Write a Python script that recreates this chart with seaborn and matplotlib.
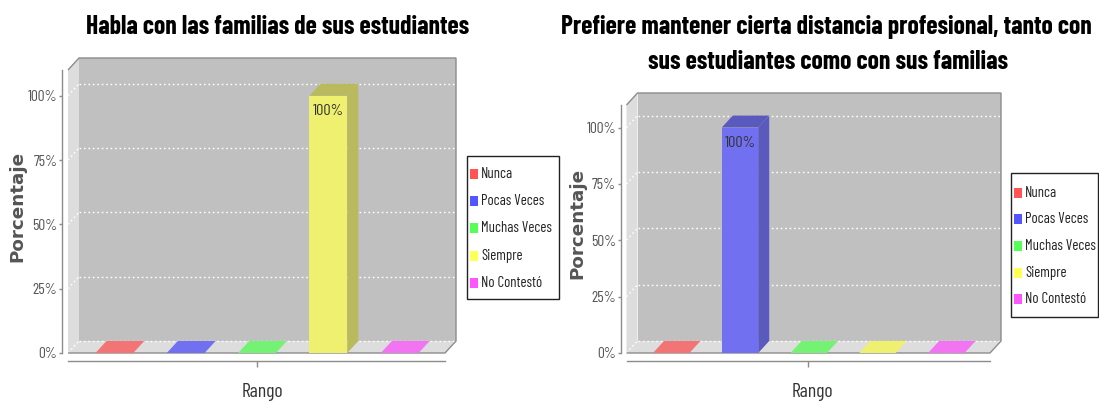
import os
import matplotlib
matplotlib.use("Agg")
import matplotlib.pyplot as plt
from matplotlib import font_manager as fm
from matplotlib.patches import Polygon, Rectangle
import seaborn as sns
import pandas as pd

# ---- data -------------------------------------------------------------
categories = ["Nunca", "Pocas Veces", "Muchas Veces", "Siempre", "No Contestó"]
habla_pct = [0, 0, 0, 100, 0]
distancia_pct = [0, 100, 0, 0, 0]
y_ticks = [0, 25, 50, 75, 100]
y_tick_labels = ["0%", "25%", "50%", "75%", "100%"]
titles = [
    ["Habla con las familias de sus estudiantes"],
    ["Prefiere mantener cierta distancia profesional, tanto con",
     "sus estudiantes como con sus familias"],
]
x_label = "Rango"
y_label = "Porcentaje"

# ---- style ------------------------------------------------------------
series_colors = ["#FF5555", "#5555FF", "#55FF55", "#FFFF55", "#FF55FF"]
face_colors = ["#F27474", "#7070F0", "#74F274", "#F0F070", "#F274F2"]
shade_colors = ["#B85A5A", "#5A5ABE", "#5AB85A", "#B9B95E", "#B85AB8"]
BACK_WALL = "#C0C0C0"
SIDE_WALL = "#DDDDDD"
EDGE = "#8C8C8C"
DX, DY = 11, 12  # depth of the 3D effect, in pixels

sns.set_theme(style="white")
plt.rcParams["font.family"] = ["DejaVu Sans"]


def pick_font(filenames, fallback_weight):
    """FontProperties for the first installed font file of the list."""
    files = {os.path.basename(f.fname): f.fname for f in fm.fontManager.ttflist}
    for name in filenames:
        if name in files:
            return fm.FontProperties(fname=files[name])
    return fm.FontProperties(family="DejaVu Sans", weight=fallback_weight)


NARROW = pick_font(["BarlowCondensed-Regular.ttf", "AsapCondensed-Regular.ttf",
                    "DejaVuSansCondensed.ttf"], "normal")
NARROW_BOLD = pick_font(["BarlowCondensed-Bold.ttf", "AsapCondensed-Bold.ttf",
                         "DejaVuSansCondensed-Bold.ttf"], "bold")
WIDE_BOLD = fm.FontProperties(family="DejaVu Sans", weight="bold")

W, H = 1099, 403
fig = plt.figure(figsize=(W / 100, H / 100), dpi=100)
fig.patch.set_facecolor("white")
renderer = fig.canvas.get_renderer()


def fx(x):
    return x / W


def fy(y):
    return 1 - y / H


def fp(base, size):
    p = base.copy()
    p.set_size(size)
    return p


def size_for(text, props, width=None, height=None, rotation=0):
    """Font size that gives a text the wanted pixel width (or height)."""
    t = fig.text(0, 0, text, fontproperties=fp(props, 10), rotation=rotation)
    bb = t.get_window_extent(renderer)
    t.remove()
    if width is not None:
        return 10 * width / bb.width
    return 10 * height / bb.height


TITLE_SIZE = size_for(titles[0][0], NARROW_BOLD, width=383)
TICK_SIZE = size_for("100%", NARROW, width=30)
LABEL_SIZE = size_for("100%", NARROW, width=31)
LEGEND_SIZE = size_for("Muchas Veces", NARROW, width=71)
XLABEL_SIZE = size_for(x_label, NARROW, width=42)
YLABEL_SIZE = size_for(y_label, WIDE_BOLD, height=112, rotation=90)

panels = [
    dict(values=habla_pct, rect=(68, 70, 445, 353),
         title_pos=[(278, 27)], ylabel_pos=(17, 206), xlabel_x=262,
         legend_box=(467, 156, 559, 299), legend_row0=174, legend_step=27.2),
    dict(values=distancia_pct, rect=(626.5, 105, 990, 353),
         title_pos=[(826, 27), (828, 62)], ylabel_pos=(577, 223), xlabel_x=812,
         legend_box=(1011, 173, 1098, 317), legend_row0=192.7, legend_step=26.6),
]

for i, panel in enumerate(panels):
    x0p, y0p, x1p, y1p = panel["rect"]
    ax = fig.add_axes([fx(x0p), fy(y1p), (x1p - x0p) / W, (y1p - y0p) / H])
    ax.patch.set_visible(False)

    df = pd.DataFrame({"Rango": categories, "pct": panel["values"]})
    sns.barplot(data=df, x="Rango", y="pct", hue="Rango", order=categories,
                hue_order=categories, palette=face_colors, saturation=1,
                width=0.53, linewidth=0, legend=False, ax=ax)
    bars = list(ax.patches)

    xmin, xmax = -0.65, 4.635
    ymin, ymax = 0, 110
    ax.set_xlim(xmin, xmax)
    ax.set_ylim(ymin, ymax)

    # pixel depth expressed in data units
    o = ax.transData.transform((0, 0))
    ddx, ddy = ax.transData.inverted().transform((o[0] + DX, o[1] + DY))

    # walls of the 3D box
    ax.add_patch(Polygon([(xmin + ddx, ymin + ddy), (xmax + ddx, ymin + ddy),
                          (xmax + ddx, ymax + ddy), (xmin + ddx, ymax + ddy)],
                         closed=True, facecolor=BACK_WALL, edgecolor="none",
                         clip_on=False, zorder=0.1))
    ax.add_patch(Polygon([(xmin, ymin), (xmin, ymax), (xmin + ddx, ymax + ddy),
                          (xmin + ddx, ymin + ddy)],
                         closed=True, facecolor=SIDE_WALL, edgecolor="none",
                         clip_on=False, zorder=0.2))
    ax.add_patch(Polygon([(xmin, ymin), (xmax, ymin), (xmax + ddx, ymin + ddy),
                          (xmin + ddx, ymin + ddy)],
                         closed=True, facecolor=SIDE_WALL, edgecolor="none",
                         clip_on=False, zorder=0.2))

    # dotted grid on the back wall and the left wall
    for t in y_ticks:
        ax.plot([xmin + ddx, xmax + ddx], [t + ddy, t + ddy], color="white",
                lw=1, ls=(0, (1.2, 2)), clip_on=False, zorder=0.5)
        ax.plot([xmin, xmin + ddx], [t, t + ddy], color="white",
                lw=1, ls=(0, (1.2, 2)), clip_on=False, zorder=0.5)

    # outline of the box
    ax.add_patch(Polygon([(xmin, ymax), (xmin + ddx, ymax + ddy),
                          (xmax + ddx, ymax + ddy), (xmax + ddx, ymin + ddy),
                          (xmax, ymin), (xmin, ymin)],
                         closed=False, fill=False, edgecolor=EDGE, lw=1,
                         clip_on=False, zorder=0.6))

    # depth faces of the bars
    for bar in bars:
        bx, bw, bh = bar.get_x(), bar.get_width(), bar.get_height()
        k = int(round(bx + bw / 2))
        bar.set_zorder(3)
        top_col = shade_colors[k] if bh > 0 else face_colors[k]
        ax.add_patch(Polygon([(bx, bh), (bx + bw, bh), (bx + bw + ddx, bh + ddy),
                              (bx + ddx, bh + ddy)], closed=True,
                             facecolor=top_col, edgecolor="none",
                             clip_on=False, zorder=3 if bh > 0 else 1))
        if bh > 0:
            ax.add_patch(Polygon([(bx + bw, 0), (bx + bw, bh),
                                  (bx + bw + ddx, bh + ddy), (bx + bw + ddx, ddy)],
                                 closed=True, facecolor=shade_colors[k],
                                 edgecolor="none", clip_on=False, zorder=3))
            ax.annotate(f"{bh:.0f}%", xy=(bx + bw / 2, bh), xytext=(0, -6),
                        textcoords="offset points", ha="center", va="top",
                        fontproperties=fp(NARROW, LABEL_SIZE),
                        color="#333333", zorder=4)

    # axes
    for side in ("top", "right"):
        ax.spines[side].set_visible(False)
    ax.spines["left"].set_position(("outward", 4))
    ax.spines["bottom"].set_position(("outward", 6))
    for side in ("left", "bottom"):
        ax.spines[side].set_color(EDGE)
        ax.spines[side].set_linewidth(1)
    ax.set_yticks(y_ticks)
    ax.set_yticklabels(y_tick_labels)
    for lab in ax.get_yticklabels():
        lab.set_fontproperties(fp(NARROW, TICK_SIZE))
        lab.set_color("#555555")
    ax.set_xticks([(xmin + xmax) / 2])
    ax.set_xticklabels([""])
    ax.tick_params(axis="y", length=2, width=1, color=EDGE, pad=1.5, left=True)
    ax.tick_params(axis="x", length=4, width=1, color=EDGE, bottom=True)
    ax.set_xlabel("")
    ax.set_ylabel("")

    # titles and axis names
    for line, (tx, ty) in zip(titles[i], panel["title_pos"]):
        fig.text(fx(tx), fy(ty), line, ha="center", va="center",
                 fontproperties=fp(NARROW_BOLD, TITLE_SIZE), color="black")
    fig.text(fx(panel["xlabel_x"]), fy(392), x_label, ha="center", va="center",
             fontproperties=fp(NARROW, XLABEL_SIZE), color="#333333")
    yx, yy = panel["ylabel_pos"]
    fig.text(fx(yx), fy(yy), y_label, rotation=90, ha="center", va="center",
             fontproperties=fp(WIDE_BOLD, YLABEL_SIZE), color="#555555")

    # legend box
    bx0, by0, bx1, by1 = panel["legend_box"]
    fig.add_artist(Rectangle((fx(bx0), fy(by1)), (bx1 - bx0) / W,
                             (by1 - by0) / H, transform=fig.transFigure,
                             facecolor="white", edgecolor="#222222", lw=1,
                             zorder=4))
    for j, (name, col) in enumerate(zip(categories, series_colors)):
        ry = panel["legend_row0"] + j * panel["legend_step"]
        fig.add_artist(Rectangle((fx(bx0 + 3), fy(ry + 5)), 8 / W, 10 / H,
                                 transform=fig.transFigure, facecolor=col,
                                 edgecolor="none", zorder=5))
        fig.text(fx(bx0 + 14), fy(ry), name, ha="left", va="center",
                 fontproperties=fp(NARROW, LEGEND_SIZE), color="#222222",
                 zorder=5)

fig.savefig("out.png", dpi=100, facecolor="white")
